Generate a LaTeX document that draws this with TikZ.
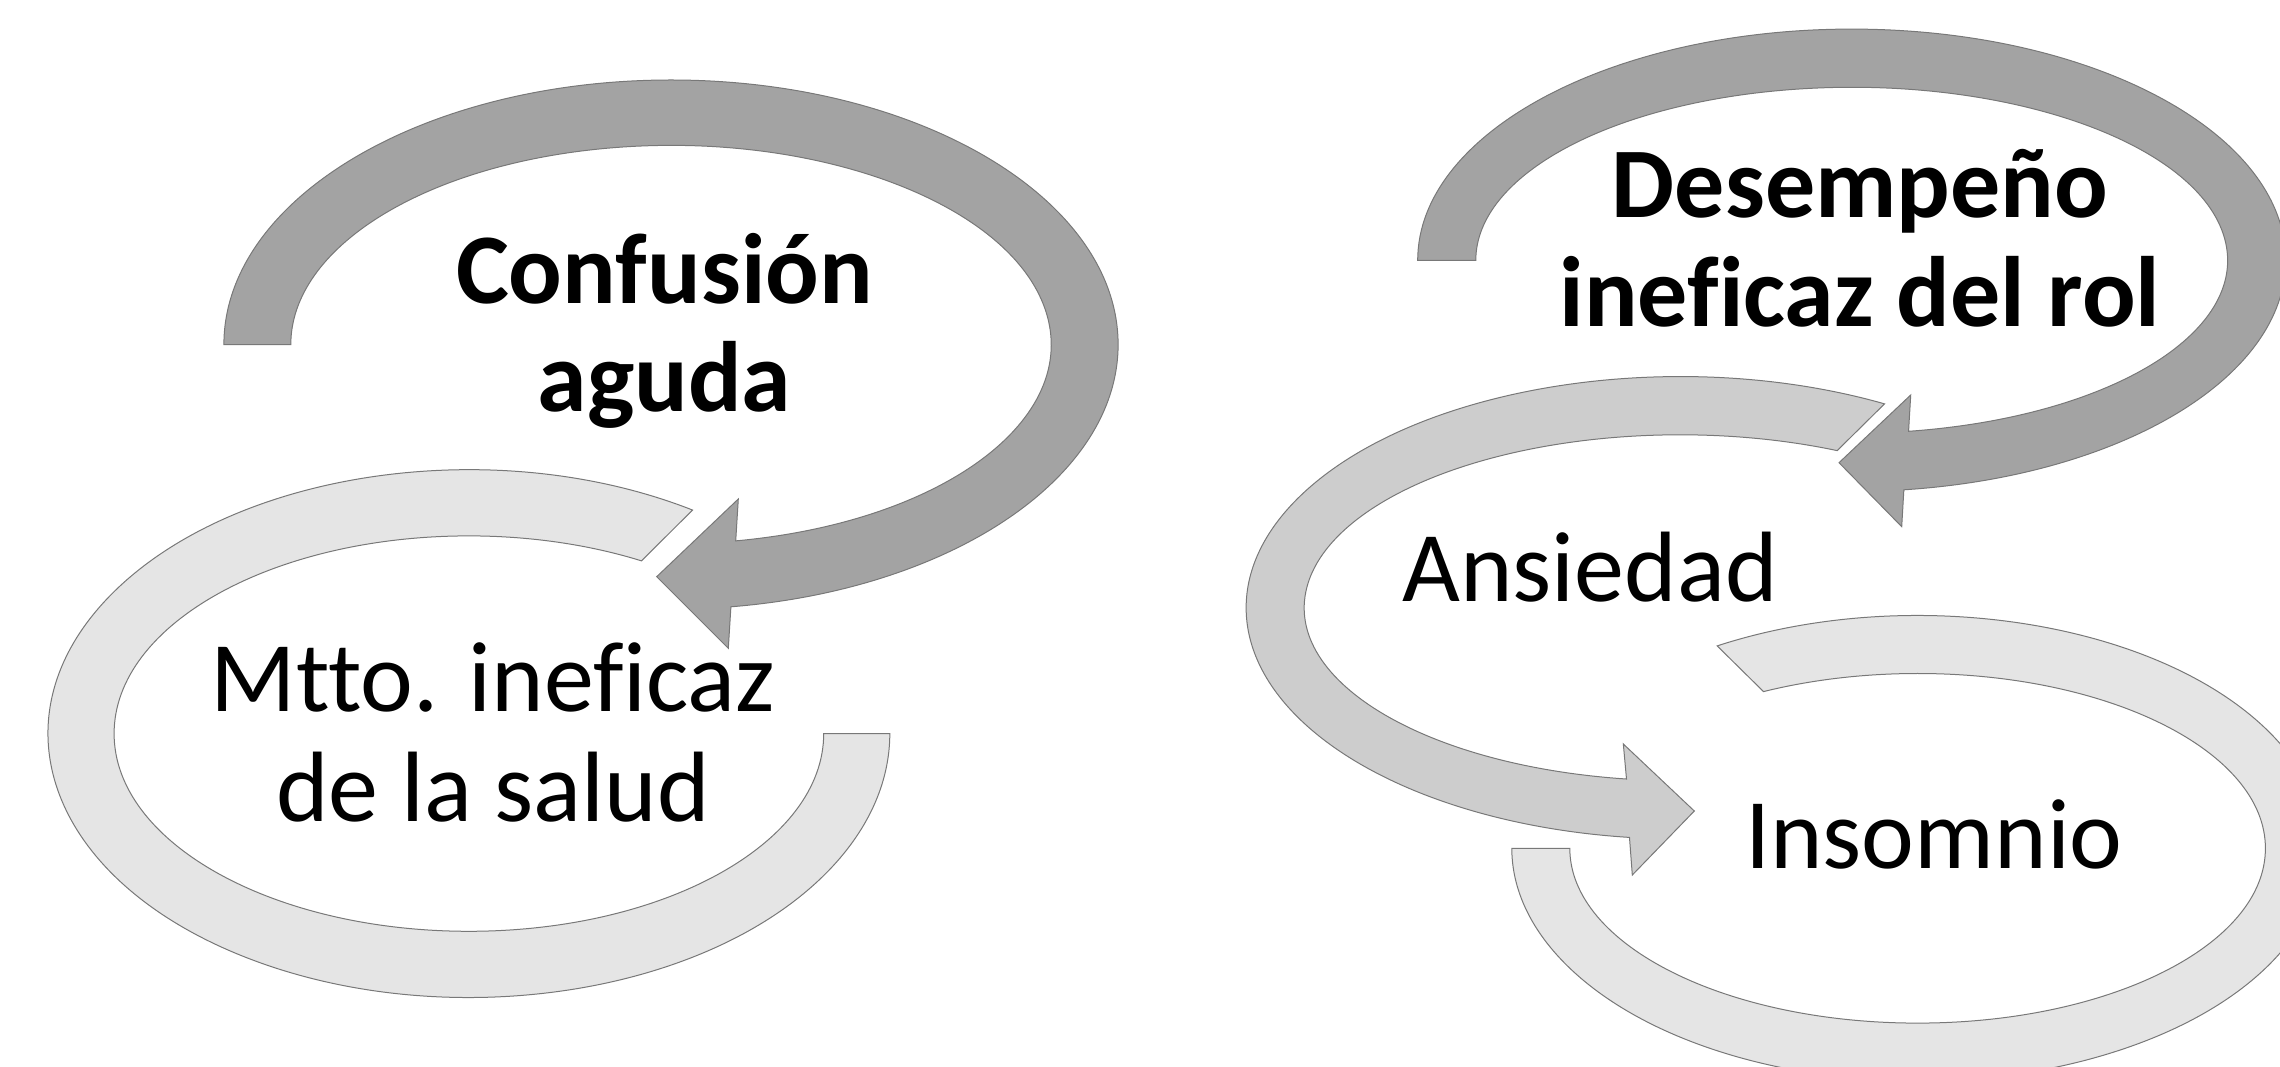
\documentclass[tikz,border=0pt]{standalone}
\usepackage{fontspec}
\setmainfont{Carlito}[Ligatures=CommonOff]
\begin{document}
\begin{tikzpicture}[x=0.5pt,y=0.5pt,
  ring/.style={draw={rgb,255:red,120;green,120;blue,120},line width=0.5pt},
  darkring/.style={ring,fill={rgb,255:red,163;green,163;blue,163}},
  midring/.style={ring,fill={rgb,255:red,205;green,205;blue,205}},
  lightring/.style={ring,fill={rgb,255:red,229;green,229;blue,229}},
  lbl/.style={align=center,anchor=base,font=\fontsize{50}{54.5}\selectfont}]

  \useasboundingbox (0,0) rectangle (2280,1066);
  \clip (0,0) rectangle (2280,1066);

  % left pair
  \begin{scope}[shift={(468.9,332.4)}]
    \filldraw[lightring] (57.9:420.9 and 263.9) arc[start angle=57.9,end angle=360,x radius=420.9,y radius=263.9]
      -- (0:354.8 and 197.7) arc[start angle=360,end angle=60.9,x radius=354.8,y radius=197.7] -- cycle;
  \end{scope}
  \begin{scope}[shift={(671,721.4)}]
    \filldraw[darkring] (180:447.1 and 264.6) arc[start angle=180,end angle=-82.3,x radius=447.1,y radius=264.6]
      -- (57.3,-303.7) -- (-14.3,-232.1) -- (67.3,-154.4)
      -- (-80.2:380.2 and 199.2) arc[start angle=-80.2,end angle=180,x radius=380.2,y radius=199.2] -- cycle;
  \end{scope}

  % right chain
  \begin{scope}[shift={(1917.6,217.7)}]
    \filldraw[lightring] (119.6:405.8 and 232.8) arc[start angle=119.6,end angle=-180,x radius=405.8,y radius=232.8]
      -- (-180:347.8 and 174.8) arc[start angle=-180,end angle=116.3,x radius=347.8,y radius=174.8] -- cycle;
  \end{scope}
  \begin{scope}[shift={(1680.1,458.2)}]
    \filldraw[midring] (61.9:434 and 231.2) arc[start angle=61.9,end angle=263.3,x radius=434,y radius=231.2]
      -- (-47.8,-267.2) -- (14.2,-203.2) -- (-56.8,-136.2)
      -- (261.8:375.9 and 173) arc[start angle=261.8,end angle=65.3,x radius=375.9,y radius=173] -- cycle;
  \end{scope}
  \begin{scope}[shift={(1851.7,805.7)}]
    \filldraw[darkring] (180:434 and 231.2) arc[start angle=180,end angle=-83.1,x radius=434,y radius=231.2]
      -- (50,-266.4) -- (-12.7,-202.4) -- (59,-134.7)
      -- (-81.3:375.9 and 173) arc[start angle=-81.3,end angle=180,x radius=375.9,y radius=173] -- cycle;
  \end{scope}

  % labels (base = last line)
  \node[lbl,font=\fontsize{50}{54}\selectfont\bfseries] (confusion) at (664.5,654.5) {Confusión\\aguda};
  \node[lbl,font=\fontsize{50}{55}\selectfont] (mtto) at (493,244.5) {Mtto. ineficaz\\de la salud};
  \node[lbl,font=\fontsize{50}{54.5}\selectfont\bfseries] (desempeno) at (1860,739) {Desempeño\\ineficaz del rol};
  \node[lbl] (ansiedad) at (1590,464) {Ansiedad};
  \node[lbl] (insomnio) at (1934,198) {Insomnio};

\end{tikzpicture}
\end{document}
